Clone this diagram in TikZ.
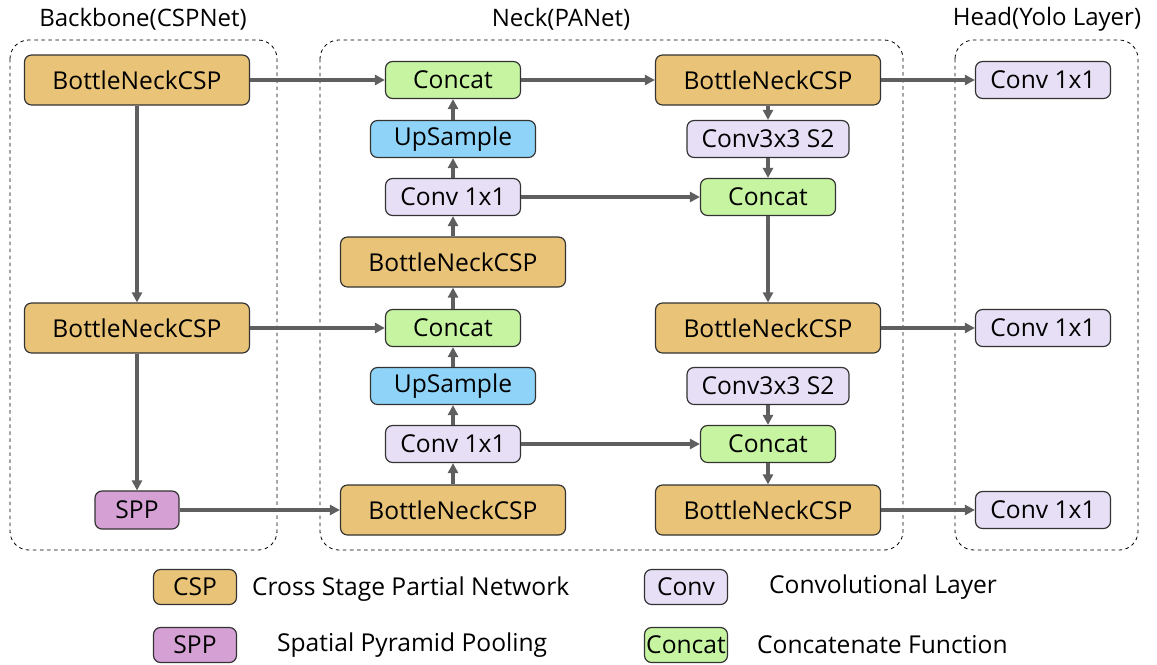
\documentclass[tikz,border=0pt]{standalone}
\usepackage{fontspec}
\setmainfont{Open Sans}
\usetikzlibrary{arrows.meta,positioning}
\definecolor{cspfill}{HTML}{E9C377}
\definecolor{convfill}{HTML}{E7DFF5}
\definecolor{catfill}{HTML}{C6F4A1}
\definecolor{upfill}{HTML}{8FD4F8}
\definecolor{sppfill}{HTML}{D5A1D5}
\definecolor{linegray}{HTML}{5F5F5F}
\definecolor{edgegray}{HTML}{333333}
\def\px{0.03cm}
\tikzset{
  blk/.style={draw=edgegray,line width=1pt,rounded corners=6pt,inner sep=0pt,
    font=\fontsize{21}{25}\selectfont},
  csp/.style={blk,fill=cspfill,minimum width=225*\px,minimum height=50*\px},
  conv/.style={blk,fill=convfill,minimum width=135*\px,minimum height=37*\px},
  conv3/.style={blk,fill=convfill,minimum width=162*\px,minimum height=37*\px},
  cat/.style={blk,fill=catfill,minimum width=135*\px,minimum height=37*\px},
  ups/.style={blk,fill=upfill,minimum width=165*\px,minimum height=37*\px},
  spp/.style={blk,fill=sppfill,minimum width=84*\px,minimum height=38*\px},
  lgd/.style={blk,minimum width=83*\px,minimum height=35*\px},
  frame/.style={dashed,line width=0.7pt,rounded corners=16pt},
  ttl/.style={font=\fontsize{20.5}{24}\selectfont},
  lgtxt/.style={font=\fontsize{21}{25}\selectfont,anchor=west},
  flow/.style={-{Triangle[length=8.5pt,width=8.5pt]},linegray,line width=2.6pt},
}
\begin{document}
\begin{tikzpicture}[x=\px,y=-\px]
  \useasboundingbox (0,0) rectangle (1157,664);
  % --- three dashed groups with their titles ---
  \draw[frame] (10,40) rectangle (277,550);
  \draw[frame] (320,40) rectangle (903,550);
  \draw[frame] (955,40) rectangle (1138,550);
  \node[ttl] (tbb) at (143,19) {Backbone(CSPNet)};
  \node[ttl] (tnk) at (561,19) {Neck(PANet)};
  \node[ttl] (thd) at (1047,19) {Head(Yolo Layer)};
  % backbone
  \node[csp] (b1) at (137,80) {BottleNeckCSP};
  \node[csp] (b2) at (137,328) {BottleNeckCSP};
  \node[spp] (sp) at (137,510) {SPP};
  % neck, upward path
  \node[cat]  (c1) at (453,80)  {Concat};
  \node[ups]  (u1) at (453,139) {UpSample};
  \node[conv] (k1) at (453,197) {Conv 1x1};
  \node[csp]  (n1) at (453,262) {BottleNeckCSP};
  \node[cat]  (c2) at (453,328) {Concat};
  \node[ups]  (u2) at (453,386) {UpSample};
  \node[conv] (k2) at (453,444) {Conv 1x1};
  \node[csp]  (n2) at (453,510) {BottleNeckCSP};
  % neck, downward path
  \node[csp]   (r1) at (768,80)  {BottleNeckCSP};
  \node[conv3] (s1) at (768,139) {Conv3x3 S2};
  \node[cat]   (d1) at (768,197) {Concat};
  \node[csp]   (r2) at (768,328) {BottleNeckCSP};
  \node[conv3] (s2) at (768,386) {Conv3x3 S2};
  \node[cat]   (d2) at (768,444) {Concat};
  \node[csp]   (r3) at (768,510) {BottleNeckCSP};
  % head
  \node[conv] (h1) at (1043,80)  {Conv 1x1};
  \node[conv] (h2) at (1043,328) {Conv 1x1};
  \node[conv] (h3) at (1043,510) {Conv 1x1};
  % --- connectors ---
  \draw[flow] (b1) -- (b2);
  \draw[flow] (b2) -- (sp);
  \draw[flow] (b1) -- (c1);
  \draw[flow] (b2) -- (c2);
  \draw[flow] (sp) -- (n2);
  \draw[flow] (n2) -- (k2);
  \draw[flow] (k2) -- (u2);
  \draw[flow] (u2) -- (c2);
  \draw[flow] (c2) -- (n1);
  \draw[flow] (n1) -- (k1);
  \draw[flow] (k1) -- (u1);
  \draw[flow] (u1) -- (c1);
  \draw[flow] (c1) -- (r1);
  \draw[flow] (r1) -- (s1);
  \draw[flow] (s1) -- (d1);
  \draw[flow] (k1) -- (d1);
  \draw[flow] (d1) -- (r2);
  \draw[flow] (s2) -- (d2);
  \draw[flow] (k2) -- (d2);
  \draw[flow] (d2) -- (r3);
  \draw[flow] (r1) -- (h1);
  \draw[flow] (r2) -- (h2);
  \draw[flow] (r3) -- (h3);
  % --- legend ---
  \node[lgd,fill=cspfill]  (lcsp) at (195,587) {CSP};
  \node[lgd,fill=sppfill]  (lspp) at (195,645) {SPP};
  \node[lgd,fill=convfill] (lcnv) at (686,587) {Conv};
  \node[lgd,fill=catfill]  (lcat) at (686,645) {Concat};
  \node[lgtxt] (tcsp) at (248,589) {Cross Stage Partial Network};
  \node[lgtxt] (tspp) at (273,645) {Spatial Pyramid Pooling};
  \node[lgtxt] (tcnv) at (765,587) {Convolutional Layer};
  \node[lgtxt] (tcat) at (753,645) {Concatenate Function};
\end{tikzpicture}
\end{document}
